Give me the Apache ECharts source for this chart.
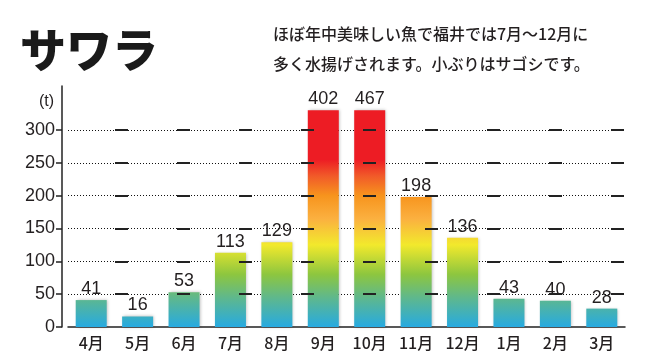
<!DOCTYPE html>
<html><head><meta charset="utf-8">
<script src="https://cdn.jsdelivr.net/npm/echarts@6/dist/echarts.min.js"></script>
<style>html,body{margin:0;padding:0;background:#fff}#c{width:658px;height:360px}</style>
</head><body><div id="c"></div>
<script>
var categories = ['4月','5月','6月','7月','8月','9月','10月','11月','12月','1月','2月','3月'];
var values = [41, 16, 53, 113, 129, 402, 467, 198, 136, 43, 40, 28];
var yTicks = [0, 50, 100, 150, 200, 250, 300];
var gridValues = [50, 100, 150, 200, 250, 300];
var displayCap = 330;   // bars above this are drawn truncated
var axisMax = 367;
var titleText = 'サワラ';
var descText = 'ほぼ年中美味しい魚で福井では7月～12月に\n多く水揚げされます。小ぶりはサゴシです。';
var unitText = '(t)';

// colour stops in value space
var stopVals = [0, 45, 80, 125, 165, 200, 230, 255];
var stopCols = ['#27aae1','#5fb88c','#8dc63f','#f2e92c','#fbb040','#f7941d','#f15a29','#ed1c24'];
var topStop = stopVals[stopVals.length-1];

function gradFor(h){
  var stops = stopVals.map(function(s,i){ return {offset: 1 - s/topStop, color: stopCols[i]}; }).reverse();
  return new echarts.graphic.LinearGradient(0, 1 - topStop/h, 0, 1, stops);
}

var barData = values.map(function(v){
  var h = Math.min(v, displayCap);
  return { value: h, itemStyle: { color: gradFor(h) } };
});

var txt = '#231f20';
var chart = echarts.init(document.getElementById('c'));
chart.setOption({
  animation: false,
  title: [
    { text: titleText, left: 15, top: 22, textStyle: { fontFamily: 'Noto Sans CJK JP', fontWeight: 900, fontSize: 46, color: '#1a1a1a' } },
    { text: descText, left: 268, top: 14, textStyle: { fontFamily: 'Noto Sans CJK JP', fontWeight: 500, fontSize: 16, lineHeight: 30, color: txt } },
    { text: unitText, left: 34, top: 89, textStyle: { fontFamily: 'Liberation Sans', fontWeight: 'normal', fontSize: 16, color: txt } }
  ],
  grid: { left: 68, right: 33, top: 86, bottom: 33 },
  xAxis: {
    type: 'category', data: categories,
    axisLine: { lineStyle: { color: '#222', width: 1.5 } },
    axisTick: { show: false },
    axisLabel: { fontFamily: 'Noto Sans CJK JP', fontWeight: 500, fontSize: 16, color: txt, margin: 8 }
  },
  yAxis: {
    type: 'value', min: 0, max: axisMax, offset: 6,
    axisLine: { show: true, lineStyle: { color: '#222', width: 1.5 } },
    axisTick: { show: true, length: 6, customValues: yTicks, lineStyle: { color: '#222', width: 1.5 } },
    axisLabel: { customValues: yTicks, fontFamily: 'Liberation Sans', fontSize: 18, color: txt, margin: 7 },
    splitLine: { show: false }
  },
  series: [
    {
      type: 'bar', data: barData, barWidth: 31, z: 2,
      itemStyle: { shadowColor: 'rgba(0,0,0,0.25)', shadowBlur: 3, shadowOffsetX: 1, shadowOffsetY: 0 },
      label: {
        show: true, position: 'top', distance: 2,
        fontFamily: 'Liberation Sans', fontSize: 18, color: txt,
        formatter: function(p){ return values[p.dataIndex]; }
      },
      markLine: {
        silent: true, symbol: 'none', z: 1, animation: false,
        label: { show: false },
        lineStyle: { color: '#111', width: 1.2, type: [1, 2] },
        data: gridValues.map(function(v){ return { yAxis: v }; })
      }
    },
    {
      type: 'line', data: [], z: 6,
      markLine: {
        silent: true, symbol: 'none', z: 6, animation: false,
        label: { show: false },
        lineStyle: { color: '#222', width: 1.8, type: [13, 49], dashOffset: 15 },
        data: gridValues.map(function(v){ return { yAxis: v }; })
      }
    }
  ]
});
</script>
</body></html>
